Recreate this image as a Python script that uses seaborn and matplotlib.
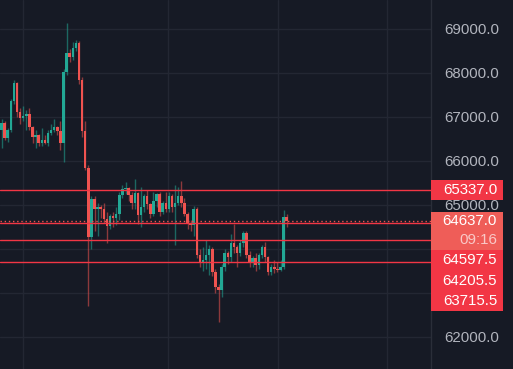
import numpy as np
import matplotlib
matplotlib.use('Agg')
import matplotlib.pyplot as plt
from matplotlib.patches import Rectangle
import seaborn as sns

# ----------------------------------------------------------------------
# Data (prices in USD)
# ----------------------------------------------------------------------
opens = [66700, 66860, 66520, 66700, 67360, 67770, 67110, 66980, 67020, 67060,
         66770, 66540, 66580, 66400, 66480, 66420, 66640, 66700, 66780, 66680,
         66420, 68020, 68450, 68360, 68570, 68680, 67840, 66680, 65840, 64270,
         65140, 64920, 64950, 64910, 64680, 64520, 64750, 64700, 64800, 65220,
         65360, 65380, 65230, 65050, 65280, 64780, 64960, 65200, 65020, 64800,
         65100, 65250, 64850, 65050, 64900, 65200, 64950, 65050, 65200, 65050,
         64800, 64600, 64550, 64910, 63860, 63700, 63760, 63860, 64000, 63480,
         63140, 63070, 63590, 63900, 63820, 64140, 64050, 63900, 64140, 64360,
         63860, 63680, 63790, 63640, 63860, 64040, 63820, 63480, 63590, 63540,
         63520, 63600, 64730]
highs = [66950, 66900, 66750, 67400, 67850, 67800, 67200, 67250, 67150, 67200,
         66800, 66700, 66620, 66750, 66600, 66700, 66850, 66950, 66800, 66900,
         68080, 69130, 68550, 68700, 68760, 68720, 67900, 66900, 65900, 65200,
         65200, 65050, 65000, 65050, 64850, 64800, 64850, 64950, 65300, 65450,
         65520, 65420, 65300, 65600, 65300, 65400, 65250, 65350, 65050, 65300,
         65280, 65300, 65100, 65300, 65300, 65250, 65450, 65400, 65550, 65150,
         64850, 64650, 64980, 64950, 64000, 64050, 64200, 64100, 64050, 63550,
         63200, 63650, 64000, 63950, 64350, 64570, 64100, 64200, 64400, 64400,
         63950, 63850, 63900, 63900, 64100, 64150, 63850, 63650, 63750, 63700,
         63750, 64880, 64800]
lows = [66300, 66480, 66430, 66650, 67300, 67000, 66850, 66900, 66700, 66700,
        66400, 66300, 66330, 66350, 66380, 66350, 66600, 66650, 66600, 66250,
        65980, 67950, 68250, 68300, 68500, 67750, 66550, 65800, 62700, 64000,
        64400, 64300, 64700, 64600, 64140, 64450, 64500, 64550, 64650, 65150,
        65250, 65100, 64900, 64900, 64560, 64500, 64850, 64900, 64700, 64750,
        64950, 64750, 64800, 64850, 64850, 64850, 64100, 65000, 64950, 64750,
        64450, 64400, 64300, 63800, 63600, 63500, 63550, 63400, 63380, 63000,
        62330, 62900, 63500, 63650, 63700, 63900, 63600, 63850, 64050, 63800,
        63600, 63600, 63500, 63550, 63800, 63700, 63400, 63420, 63450, 63480,
        63500, 63550, 64500]
closes = [66860, 66520, 66700, 67360, 67770, 67110, 66980, 67020, 67060, 66770,
          66540, 66580, 66400, 66480, 66420, 66640, 66700, 66780, 66680, 66420,
          68020, 68450, 68360, 68570, 68680, 67840, 66680, 65840, 64270, 65140,
          64920, 64950, 64910, 64680, 64520, 64750, 64700, 64800, 65220, 65360,
          65380, 65230, 65050, 65280, 64780, 64960, 65200, 65020, 64800, 65100,
          65250, 64850, 65050, 64900, 65200, 64950, 65050, 65200, 65050, 64800,
          64600, 64550, 64910, 63860, 63700, 63760, 63860, 64000, 63480, 63140,
          63070, 63590, 63900, 63820, 64140, 64050, 63900, 64140, 64360, 63860,
          63680, 63790, 63640, 63860, 64040, 63820, 63480, 63590, 63540, 63520,
          63600, 64730, 64637]

price_ticks = [62000, 63000, 64000, 65000, 66000, 67000, 68000, 69000]
hidden_ticks = [63000, 64000]             # covered by the price labels
time_grid = [6.9, 53.7, 89.2, 124.4]      # candle positions of the time grid

level_prices = [65337.0, 64597.5, 64205.5, 63715.5]
last_price = 64637.0
countdown = '09:16'

# ----------------------------------------------------------------------
# Style
# ----------------------------------------------------------------------
BG = '#161a25'
GRID = '#232733'
UP = '#22a895'
DOWN = '#ef5350'
LEVEL = '#f23645'
TEXT = '#b2b5be'

sns.set_style('dark', {'axes.facecolor': BG, 'figure.facecolor': BG})
plt.rcParams['font.family'] = ['Liberation Sans', 'DejaVu Sans']

W, H = 513, 369
fig = plt.figure(figsize=(W / 100, H / 100), dpi=100)
ax = fig.add_axes([0, 0, 431 / W, 1])
ax.set_facecolor(BG)

n = len(closes)
x = np.arange(n)
o = np.array(opens, float)
c = np.array(closes, float)
hi = np.array(highs, float)
lo = np.array(lows, float)
up = c >= o
colors = np.where(up, UP, DOWN)

# grid
for p in price_ticks:
    ax.axhline(p, color=GRID, lw=1, zorder=0)
for t in time_grid:
    ax.axvline(t, color=GRID, lw=1, zorder=0)

# wicks + bodies
ax.vlines(x, lo, hi, colors=colors, lw=1, alpha=0.55, zorder=2)
bottom = np.minimum(o, c)
height = np.maximum(np.abs(c - o), 20)
ax.bar(x, height, bottom=bottom, width=0.8, color=colors, linewidth=0, zorder=3)

# horizontal levels
for p in level_prices:
    ax.axhline(p, color=LEVEL, lw=1, zorder=4)
ax.axhline(last_price, color=DOWN, lw=1, ls=(0, (1, 2)), zorder=4)

# axes ranges: 44 px per 1000 USD, 69000 at y=29 px
ax.set_ylim(69000 - (H - 29) / 0.044, 69000 + 29 / 0.044)
ax.set_xlim(-1.5 / 3.1, (431 - 1.5) / 3.1)

ax.yaxis.tick_right()
ax.set_yticks(price_ticks)
ax.set_yticklabels(['' if p in hidden_ticks else f'{p:.1f}' for p in price_ticks])
ax.tick_params(axis='y', length=0, pad=9.5, labelsize=10.8, labelcolor=TEXT)
ax.set_xticks([])
for s in ['top', 'left', 'bottom']:
    ax.spines[s].set_visible(False)
ax.spines['right'].set_color('#2a2e39')
ax.spines['right'].set_linewidth(1)

# ----------------------------------------------------------------------
# Price labels on the right axis, stacked so they do not overlap
# ----------------------------------------------------------------------
def py(price):
    # pixel y from the top of the image
    return H - ax.transData.transform((0, price))[1]

labels = [(level_prices[0], f'{level_prices[0]:.1f}', None)] + \
         [(last_price, f'{last_price:.1f}', countdown)] + \
         [(p, f'{p:.1f}', None) for p in level_prices[1:]]
labels.sort(key=lambda t: -t[0])

box_h = 20.5
box_x0, box_x1 = 431, 503
prev_bottom = -1e9
for price, txt, sub in labels:
    yc = py(price)
    if sub is None:
        top = max(yc - box_h / 2, prev_bottom)
        h = box_h
        fc = LEVEL
    else:
        top = max(yc - 9, prev_bottom)
        h = 38
        fc = '#ef5d58'
    fig.patches.append(Rectangle((box_x0 / W, 1 - (top + h) / H),
                                 (box_x1 - box_x0) / W, h / H,
                                 transform=fig.transFigure, facecolor=fc,
                                 edgecolor='none', zorder=5))
    ty = top + (h / 2 if sub is None else 9.5)
    fig.text(497 / W, 1 - ty / H, txt, ha='right', va='center',
             color='white', fontsize=10.8, zorder=6)
    if sub is not None:
        fig.text(497 / W, 1 - (top + 28) / H, sub, ha='right', va='center',
                 color='#f9c9c7', fontsize=10.8, zorder=6)
    prev_bottom = top + h

fig.savefig('out.png', dpi=100, facecolor=BG)
